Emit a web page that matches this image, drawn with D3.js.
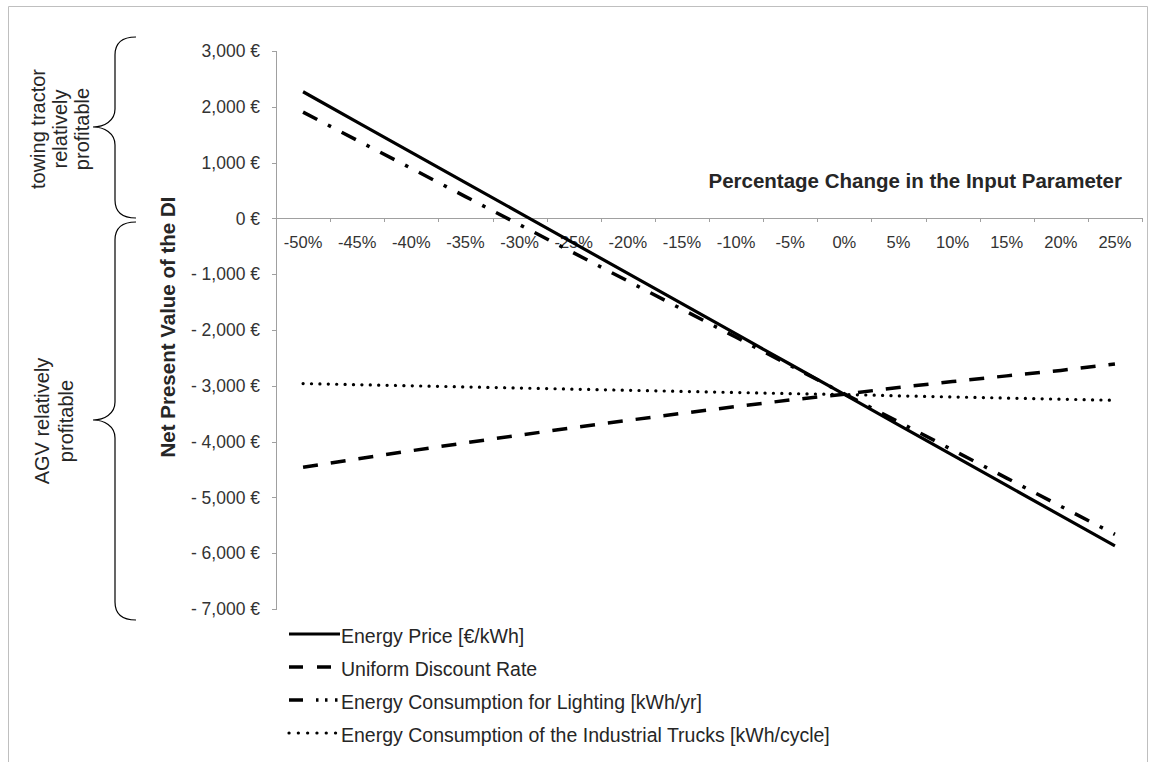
<!DOCTYPE html>
<meta charset="utf-8">
<style>
body { margin: 0; background: #fff; }
svg { font-family: "Liberation Sans", Arial, sans-serif; }
.axis path, .axis line { fill: none; stroke: #a0a0a0; shape-rendering: crispEdges; }
.axis text { fill: #333; }
</style>
<body>
<script src="https://d3js.org/d3.v7.min.js"></script>
<script>

var categories = ["-50%", "-45%", "-40%", "-35%", "-30%", "-25%", "-20%", "-15%",
                  "-10%", "-5%", "0%", "5%", "10%", "15%", "20%", "25%"];

var energyPrice = [2270, 1727, 1185, 642, 99, -443, -986, -1529,
                   -2071, -2614, -3155, -3699, -4242, -4785, -5327, -5870];
var discountRate = [-4460, -4310, -4164, -4022, -3884, -3750, -3620, -3494,
                    -3372, -3254, -3150, -3030, -2924, -2822, -2724, -2610];
var lighting = [1905, 1400, 896, 391, -113, -618, -1122, -1627,
                -2131, -2636, -3145, -3645, -4150, -4654, -5159, -5663];
var trucks = [-2960, -2980, -3000, -3020, -3040, -3060, -3080, -3100,
              -3120, -3140, -3155, -3180, -3200, -3220, -3240, -3260];

var yTicks = [3000, 2000, 1000, 0, -1000, -2000, -3000, -4000, -5000, -6000, -7000];
var seriesNames = ["Energy Price [€/kWh]", "Uniform Discount Rate",
                   "Energy Consumption for Lighting [kWh/yr]",
                   "Energy Consumption of the Industrial Trucks [kWh/cycle]"];

var width = 1155, height = 762;

var svg = d3.select("body").append("svg")
  .attr("width", width).attr("height", height);

// outer frame
svg.append("path")
  .attr("d", "M8.5,762 V6.5 H1147.5 V762")
  .attr("fill", "none")
  .attr("stroke", "#bfbfbf");

var x = d3.scaleBand().domain(categories).range([276, 1142]);
var xEdge = d3.scaleLinear().domain([0, categories.length]).range([276, 1142]);
var y = d3.scaleLinear().domain([-7000, 3000]).range([609, 51]);

function fmt(d) {
  var s = d3.format(",")(Math.abs(d)) + " €";
  return d < 0 ? "- " + s : s;
}

// y axis
var yAxis = d3.axisLeft(y).tickValues(yTicks).tickSize(4).tickPadding(12).tickFormat(fmt);
var gy = svg.append("g").attr("class", "y axis")
  .attr("transform", "translate(" + x.range()[0] + ",0)")
  .call(yAxis);
gy.selectAll("text").style("font-size", "17.5px");

// x axis: tick marks on band edges, labels at band centres
var gxt = svg.append("g").attr("class", "x axis")
  .attr("transform", "translate(0," + y(0) + ")")
  .call(d3.axisBottom(xEdge).tickValues(d3.range(1, categories.length + 1))
    .tickSize(4).tickFormat(""));
gxt.select(".domain").attr("d", "M" + xEdge(0) + ",0.5H" + xEdge(categories.length));

var gx = svg.append("g").attr("class", "x axis")
  .attr("transform", "translate(0," + y(0) + ")")
  .call(d3.axisBottom(x).tickSize(0).tickPadding(18));
gx.select(".domain").remove();
gx.selectAll("text").style("font-size", "16.5px");

// axis titles
svg.append("text")
  .attr("text-anchor", "end")
  .attr("x", 1122)
  .attr("y", 188)
  .style("font-size", "20.5px")
  .style("font-weight", "bold")
  .attr("fill", "#262626")
  .text("Percentage Change in the Input Parameter");

svg.append("text")
  .attr("text-anchor", "middle")
  .attr("transform", "translate(175,327) rotate(-90)")
  .style("font-size", "20.5px")
  .style("font-weight", "bold")
  .attr("fill", "#262626")
  .text("Net Present Value of the DI");

// series
var series = [
  { name: seriesNames[0], values: energyPrice, dash: null, w: 3.2, cap: "butt" },
  { name: seriesNames[1], values: discountRate, dash: "15,13", w: 3.5, cap: "butt" },
  { name: seriesNames[2], values: lighting, dash: "16,12,3.5,12", w: 3.5, cap: "butt" },
  { name: seriesNames[3], values: trucks, dash: "0.1,8.3", w: 3.2, cap: "round" }
];

var line = d3.line()
  .x(function(d, i) { return x(categories[i]) + x.bandwidth() / 2; })
  .y(function(d) { return y(d); });

svg.selectAll("path.series").data(series).enter().append("path")
  .attr("class", "series")
  .attr("d", function(d) { return line(d.values); })
  .attr("fill", "none")
  .attr("stroke", "#000")
  .attr("stroke-width", function(d) { return d.w; })
  .attr("stroke-linecap", function(d) { return d.cap; })
  .attr("stroke-dasharray", function(d) { return d.dash; });

// legend
var legendY = [636, 669, 702, 735];
var legendDash = [null, "14,14", "14,13,2.5,6.5,2.5,7.5,2.5,40", "0.1,9.2"];
var lg = svg.selectAll("g.legend").data(series).enter().append("g")
  .attr("class", "legend")
  .attr("transform", function(d, i) { return "translate(0," + legendY[i] + ")"; });

lg.append("line")
  .attr("x1", 289).attr("x2", 340).attr("y1", -2).attr("y2", -2)
  .attr("stroke", "#000")
  .attr("stroke-width", function(d) { return d.w; })
  .attr("stroke-linecap", function(d) { return d.cap; })
  .attr("stroke-dasharray", function(d, i) { return legendDash[i]; });

lg.append("text")
  .attr("x", 341)
  .attr("dy", "0.35em")
  .style("font-size", "19.5px")
  .attr("fill", "#262626")
  .text(function(d) { return d.name; });

// braces on the left
function brace(top, tip, bottom) {
  var p = d3.path();
  p.moveTo(136, top);
  p.bezierCurveTo(122, top, 115, top + 6, 115, top + 18);
  p.lineTo(115, tip - 18);
  p.bezierCurveTo(115, tip - 6, 104, tip, 93, tip);
  p.bezierCurveTo(104, tip, 115, tip + 6, 115, tip + 18);
  p.lineTo(115, bottom - 18);
  p.bezierCurveTo(115, bottom - 6, 122, bottom, 136, bottom);
  return p.toString();
}

svg.append("path").attr("d", brace(37, 127, 218))
  .attr("fill", "none").attr("stroke", "#000").attr("stroke-width", 1.2);
svg.append("path").attr("d", brace(222, 420, 620))
  .attr("fill", "none").attr("stroke", "#000").attr("stroke-width", 1.2);

var braceText1 = ["towing tractor", "relatively", "profitable"];
var braceText2 = ["AGV relatively", "profitable"];

svg.append("text")
  .attr("text-anchor", "middle")
  .attr("transform", "translate(38,129) rotate(-90)")
  .style("font-size", "20px")
  .attr("fill", "#262626")
  .selectAll("tspan").data(braceText1).enter().append("tspan")
  .attr("x", 0)
  .attr("dy", function(d, i) { return i === 0 ? "0.35em" : "22"; })
  .text(function(d) { return d; });

svg.append("text")
  .attr("text-anchor", "middle")
  .attr("transform", "translate(42,421) rotate(-90)")
  .style("font-size", "20px")
  .attr("fill", "#262626")
  .selectAll("tspan").data(braceText2).enter().append("tspan")
  .attr("x", 0)
  .attr("dy", function(d, i) { return i === 0 ? "0.35em" : "24"; })
  .text(function(d) { return d; });

</script>
</body>
